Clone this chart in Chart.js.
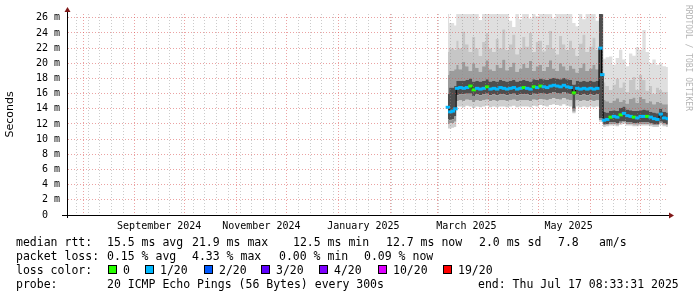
<!DOCTYPE html>
<html>
<head>
<meta charset="utf-8">
<script src="https://cdn.jsdelivr.net/npm/chart.js@4.4.1/dist/chart.umd.min.js"></script>
<style>
  html, body { margin:0; padding:0; background:#fff; }
  #wrap { position:relative; width:697px; height:297px; overflow:hidden; background:#fff; }
  #chart { position:absolute; left:0; top:0; }
  .lg { position:absolute; font-family:'DejaVu Sans Mono', monospace; font-size:11.5px; line-height:14px; color:#000; white-space:pre; }
  .box { position:absolute; box-sizing:border-box; width:9px; height:9px; border:1px solid #000; }
  #wm { position:absolute; left:684px; top:5px; writing-mode:vertical-rl; font-family:'DejaVu Sans Mono', monospace; font-size:8px; line-height:8px; color:#b4b4b4; white-space:pre; }
</style>
</head>
<body>
<div id="wrap">
  <canvas id="chart" width="697" height="297"></canvas>

  <div class="lg" style="left:16px;top:235px">median rtt:</div>
  <div class="lg" style="left:107px;top:235px">15.5 ms avg</div>
  <div class="lg" style="left:192px;top:235px">21.9 ms max</div>
  <div class="lg" style="left:293px;top:235px">12.5 ms min</div>
  <div class="lg" style="left:386px;top:235px">12.7 ms now</div>
  <div class="lg" style="left:479px;top:235px">2.0 ms sd</div>
  <div class="lg" style="left:558px;top:235px">7.8</div>
  <div class="lg" style="left:599px;top:235px">am/s</div>

  <div class="lg" style="left:16px;top:249px">packet loss:</div>
  <div class="lg" style="left:107px;top:249px">0.15 % avg</div>
  <div class="lg" style="left:192px;top:249px">4.33 % max</div>
  <div class="lg" style="left:279px;top:249px">0.00 % min</div>
  <div class="lg" style="left:364px;top:249px">0.09 % now</div>

  <div class="lg" style="left:16px;top:263px">loss color:</div>
  <div id="lossLegend"></div>

  <div class="lg" style="left:16px;top:277px">probe:</div>
  <div class="lg" style="left:107px;top:277px">20 ICMP Echo Pings (56 Bytes) every 300s</div>
  <div class="lg" style="left:478px;top:277px">end: Thu Jul 17 08:33:31 2025</div>

  <div id="wm">RRDTOOL / TOBI OETIKER</div>
</div>
<script>
// time axis in days since Sun Jul 21 2024 00:00
const dayStart = 1.356;   // Jul 22 2024 08:33
const dayEnd = 361.356;   // Jul 17 2025 08:33

const monthTicks = [11, 42, 72, 103, 133, 164, 195, 223, 254, 284, 315, 345];
const labelTicks = [56.6, 117.8, 178.9, 240.6, 301.8];
const labelTexts = ['September 2024', 'November 2024', 'January 2025', 'March 2025', 'May 2025'];
const yTickValues = [0,1,2,3,4,5,6,7,8,9,10,11,12,13,14,15,16,17,18,19,20,21,22,23,24,25,26];

const lossLevels = [0, 1, 2, 3, 4, 10, 19];
const lossLabels = ['0', '1/20', '2/20', '3/20', '4/20', '10/20', '19/20'];
const lossColors = ['#26ff00', '#00b8ff', '#0059ff', '#5e00ff', '#7e00ff', '#dd00ff', '#ff0000'];

const days = [229.5, 231, 232.5, 234, 235,
  237, 239, 241, 243, 245, 247, 249, 251, 253, 255, 257, 259, 261, 263, 265, 267, 269, 271, 273, 275, 277,
  279, 281, 283, 285, 287, 289, 291, 293, 295, 297, 299, 301, 303, 305, 307, 309, 311, 313, 315, 317, 319,
  321, 322,
  323, 325, 327, 329, 331, 333, 335, 337, 339, 341, 343, 345, 347, 349, 351, 353, 355, 357, 359, 361.3];

// median rtt in ms
const median = [14.2, 13.6, 13.7, 14.0, 16.7,
  16.8, 16.7, 16.8, 17.0, 16.5, 16.7, 16.6, 16.7, 16.9, 16.6, 16.7, 16.6, 16.8, 16.7, 16.6, 16.7, 16.8, 16.6, 16.7, 16.8, 16.7,
  16.6, 16.9, 16.8, 17.0, 16.9, 16.8, 17.0, 17.1, 17.0, 16.9, 17.1, 16.9, 16.8, 16.1, 16.7, 16.6, 16.7, 16.6, 16.7, 16.6, 16.7,
  22.0, 18.5,
  12.5, 12.6, 12.9, 13.0, 12.9, 13.2, 13.4, 13.1, 13.0, 12.9, 12.8, 13.0, 13.0, 13.0, 12.9, 12.7, 12.6, 13.3, 12.8, 12.7];

// lost pings (of 20)
const loss = [1, 1, 1, 1, 1,
  1, 1, 1, 0, 0, 1, 1, 1, 0, 1, 1, 1, 1, 1, 1, 1, 1, 1, 1, 0, 1,
  1, 0, 1, 0, 1, 1, 1, 1, 1, 1, 1, 1, 1, 0, 1, 1, 1, 1, 1, 1, 1,
  1, 1,
  1, 1, 0, 1, 1, 0, 1, 1, 1, 0, 1, 1, 1, 0, 1, 1, 1, 1, 1, 1];

// smoke: spread of the 20 pings (ms)
const smokeMax = [26.5, 25.3, 25.3, 25.0, 26.5,
  26.5, 26.5, 26.5, 26.5, 26.5, 26.5, 25.7, 26.5, 26.5, 26.5, 26.5, 26.5, 26.5, 26.5, 26.5, 25.6, 24.8, 26.5, 25.8, 26.5, 26.5,
  25.9, 26.5, 26.2, 26.5, 26.5, 26.5, 26.5, 25.9, 26.5, 26.5, 26.5, 26.5, 26.5, 25.3, 24.9, 26.5, 25.8, 26.5, 26.5, 26.5, 25.6,
  26.5, 26.5,
  20.6, 20.8, 20.9, 19.8, 20.7, 21.8, 20.5, 19.6, 21.3, 21.0, 22.1, 21.8, 24.4, 21.5, 20.0, 20.5, 19.8, 20.0, 19.6, 19.5];
const smokeP90 = [21.5, 22.0, 22.0, 21.8, 23.0,
  22.0, 24.2, 22.5, 21.5, 23.5, 22.0, 21.0, 22.8, 24.0, 22.0, 21.5, 23.2, 22.0, 24.5, 21.8, 22.5, 23.8, 21.2, 22.0, 23.5, 22.2,
  24.0, 21.5, 22.8, 23.0, 21.6, 22.4, 24.3, 22.0, 21.2, 23.6, 22.5, 21.8, 23.0, 22.0, 21.0, 22.6, 23.8, 21.5, 22.2, 23.4, 21.8,
  26.5, 26.5,
  17.5, 17.0, 16.5, 17.2, 18.0, 16.8, 17.5, 16.2, 17.8, 18.2, 16.5, 18.5, 17.8, 16.4, 17.0, 16.0, 16.8, 16.5, 16.2, 16.2];
const smokeP75 = [18.5, 19.0, 19.0, 19.2, 19.8,
  19.2, 20.2, 19.6, 19.0, 20.0, 19.4, 18.9, 19.6, 20.4, 19.2, 19.0, 19.8, 19.4, 20.5, 19.1, 19.5, 20.1, 18.9, 19.3, 19.9, 19.4,
  20.3, 19.0, 19.6, 19.8, 19.0, 19.5, 20.4, 19.3, 19.0, 20.0, 19.6, 19.1, 19.7, 19.3, 18.8, 19.4, 20.0, 19.0, 19.3, 19.8, 19.2,
  26.5, 26.5,
  15.2, 15.0, 14.8, 15.1, 15.4, 14.9, 15.2, 14.7, 15.3, 15.5, 14.8, 15.6, 15.3, 14.8, 15.0, 14.6, 14.9, 14.8, 14.6, 14.6];
const smokeHi = [16.0, 16.8, 16.8, 17.0, 17.7,
  17.7, 17.7, 17.8, 18.0, 17.6, 17.7, 17.6, 17.7, 17.9, 17.6, 17.7, 17.6, 17.8, 17.7, 17.6, 17.7, 17.8, 17.6, 17.7, 17.8, 17.7,
  17.6, 17.9, 17.8, 18.0, 17.9, 17.8, 18.0, 18.1, 18.0, 17.9, 18.1, 17.9, 17.8, 17.2, 17.7, 17.6, 17.7, 17.6, 17.7, 17.6, 17.7,
  26.5, 26.5,
  13.6, 13.5, 13.7, 13.8, 13.7, 14.1, 14.3, 13.9, 13.8, 13.7, 13.7, 13.8, 13.9, 13.8, 13.6, 13.5, 13.4, 14.0, 13.6, 13.5];
const smokeLo = [12.6, 12.5, 12.6, 13.0, 15.8,
  15.9, 15.9, 16.0, 16.0, 15.7, 15.9, 15.8, 15.9, 16.0, 15.8, 15.9, 15.8, 15.9, 15.9, 15.8, 15.9, 16.0, 15.8, 15.9, 15.9, 15.9,
  15.8, 16.0, 15.9, 16.1, 16.0, 15.9, 16.1, 16.2, 16.1, 16.0, 16.2, 16.0, 15.9, 14.0, 15.9, 15.8, 15.9, 15.8, 15.9, 15.8, 15.9,
  12.8, 12.8,
  12.0, 12.0, 12.2, 12.2, 12.1, 12.3, 12.4, 12.2, 12.2, 12.1, 12.1, 12.2, 12.2, 12.2, 12.1, 12.0, 12.0, 12.3, 12.1, 12.0];
const smokeP10 = [12.0, 12.1, 12.1, 12.3, 15.0,
  15.1, 15.0, 15.2, 15.1, 14.9, 15.1, 15.0, 15.1, 15.2, 15.0, 15.1, 15.0, 15.1, 15.1, 15.0, 15.1, 15.2, 15.0, 15.1, 15.1, 15.1,
  15.0, 15.2, 15.1, 15.3, 15.2, 15.1, 15.3, 15.4, 15.3, 15.2, 15.4, 15.2, 15.1, 13.6, 15.1, 15.0, 15.1, 15.0, 15.1, 15.0, 15.1,
  12.5, 12.5,
  11.8, 11.9, 12.0, 12.0, 11.9, 12.1, 12.2, 12.0, 12.0, 11.9, 11.9, 12.0, 12.0, 12.0, 11.9, 11.8, 11.8, 12.1, 11.9, 11.8];
const smokeMin = [11.4, 11.4, 11.5, 11.6, 14.3,
  14.3, 14.2, 14.4, 14.3, 14.1, 14.3, 14.2, 14.3, 14.4, 14.2, 14.3, 14.2, 14.3, 14.3, 14.2, 14.3, 14.4, 14.2, 14.3, 14.3, 14.3,
  14.2, 14.4, 14.3, 14.5, 14.4, 14.3, 14.5, 14.6, 14.5, 14.4, 14.6, 14.4, 14.3, 13.4, 14.3, 14.2, 14.3, 14.2, 14.3, 14.2, 14.3,
  12.3, 12.3,
  11.6, 11.7, 11.8, 11.8, 11.7, 11.9, 12.0, 11.8, 11.8, 11.7, 11.7, 11.8, 11.8, 11.8, 11.7, 11.6, 11.6, 11.9, 11.7, 11.6];

const redGrid = 'rgba(215,70,70,0.5)';
const grayGrid = 'rgba(140,140,140,0.45)';

function pts(arr) { return days.map((d, i) => ({ x: d, y: arr[i] })); }
function lossColor(l) {
  let c = lossColors[0];
  lossLevels.forEach((lv, i) => { if (l >= lv) c = lossColors[i]; });
  return c;
}

// x ticks: weekly minor grid, monthly major grid, label positions
const xTicks = [];
for (let d = 7; d < dayEnd; d += 7) if (d > dayStart && monthTicks.indexOf(d) < 0) xTicks.push({ value: d, kind: 'week' });
monthTicks.forEach(d => xTicks.push({ value: d, kind: 'month' }));
labelTicks.forEach((d, i) => xTicks.push({ value: d, kind: 'label', label: labelTexts[i] }));
xTicks.sort((a, b) => a.value - b.value);

function smoke(arr, fillColor) {
  return {
    type: 'line', data: pts(arr), stepped: 'middle',
    borderWidth: 0, borderColor: 'transparent', pointRadius: 0,
    backgroundColor: fillColor || 'transparent', fill: fillColor ? '-1' : false, order: 5
  };
}

const medianColors = loss.map(lossColor);

const axisDecor = {
  id: 'axisDecor',
  afterDraw(chart) {
    const { ctx, chartArea: a } = chart;
    const yb = Math.round(a.bottom) + 0.5;
    const xl = Math.round(a.left) + 0.5;
    ctx.save();
    ctx.strokeStyle = '#000';
    ctx.lineWidth = 1;
    ctx.beginPath();
    ctx.moveTo(a.left - 5, yb); ctx.lineTo(a.right + 2, yb);
    ctx.moveTo(xl, a.bottom + 3); ctx.lineTo(xl, a.top - 3);
    ctx.stroke();
    ctx.fillStyle = '#801818';
    ctx.beginPath();
    ctx.moveTo(a.right + 6, yb); ctx.lineTo(a.right + 1, yb - 3); ctx.lineTo(a.right + 1, yb + 3); ctx.closePath();
    ctx.fill();
    ctx.beginPath();
    ctx.moveTo(xl, a.top - 7); ctx.lineTo(xl - 3, a.top - 2); ctx.lineTo(xl + 3, a.top - 2); ctx.closePath();
    ctx.fill();
    ctx.restore();
  }
};

function initChart() {
  Chart.defaults.font.family = "'DejaVu Sans Mono', monospace";
  Chart.defaults.color = '#000';

  new Chart(document.getElementById('chart').getContext('2d'), {
    type: 'line',
    data: {
      datasets: [
        smoke(smokeMin, null),
        smoke(smokeP10, '#cfcfcf'),
        smoke(smokeLo, '#959595'),
        smoke(smokeHi, '#4e4e4e'),
        smoke(smokeP75, '#9c9c9c'),
        smoke(smokeP90, '#c6c6c6'),
        smoke(smokeMax, '#dfdfdf'),
        {
          type: 'line', data: pts(median), stepped: 'middle', fill: false,
          borderColor: '#000', borderWidth: 1,
          pointStyle: 'line', pointRadius: 2.2, pointBorderWidth: 3,
          pointBorderColor: medianColors, pointBackgroundColor: medianColors, order: 0
        }
      ]
    },
    options: {
      responsive: false,
      animation: false,
      events: [],
      layout: { padding: { left: 0, top: 14, right: 29, bottom: 0 } },
      plugins: { legend: { display: false }, tooltip: { enabled: false } },
      scales: {
        x: {
          type: 'linear', min: dayStart, max: dayEnd,
          afterBuildTicks: s => { s.ticks = xTicks.map(t => ({ value: t.value })); },
          afterFit: s => { s.height = 82; },
          ticks: {
            autoSkip: false, maxRotation: 0, padding: 5,
            font: { size: 10 },
            callback: (v, i) => xTicks[i] && xTicks[i].label ? xTicks[i].label : ''
          },
          grid: {
            z: 1, drawTicks: false,
            color: c => {
              const t = xTicks[c.index];
              if (!t || t.kind === 'label') return 'transparent';
              return t.kind === 'month' ? redGrid : grayGrid;
            }
          },
          border: { display: true, color: '#000', dash: [1, 2], z: 2 }
        },
        y: {
          type: 'linear', min: 0, max: 26.5,
          afterBuildTicks: s => { s.ticks = yTickValues.map(v => ({ value: v })); },
          afterFit: s => { s.width = 67; },
          ticks: {
            padding: 7, font: { size: 10 },
            callback: v => v % 2 !== 0 ? '' : (v === 0 ? '0  ' : v + ' m')
          },
          grid: {
            z: 1, drawTicks: false,
            color: c => c.tick && c.tick.value % 2 === 0 ? redGrid : grayGrid
          },
          border: { display: true, color: '#000', dash: [1, 2], z: 2 },
          title: {
            display: true, text: 'Seconds', color: '#000',
            font: { family: "'DejaVu Sans', sans-serif", size: 11 },
            padding: { top: 4, bottom: 0 }
          }
        }
      }
    },
    plugins: [axisDecor]
  });

  // loss colour legend row
  const boxX = [108, 145, 204, 261, 319, 378, 443];
  const holder = document.getElementById('lossLegend');
  lossLabels.forEach((lab, i) => {
    const b = document.createElement('div');
    b.className = 'box';
    b.style.left = boxX[i] + 'px';
    b.style.top = '265px';
    b.style.background = lossColors[i];
    holder.appendChild(b);
    const t = document.createElement('div');
    t.className = 'lg';
    t.style.left = (boxX[i] + 15) + 'px';
    t.style.top = '263px';
    t.textContent = lab;
    holder.appendChild(t);
  });
}

document.addEventListener('DOMContentLoaded', initChart);
</script>
</body>
</html>
